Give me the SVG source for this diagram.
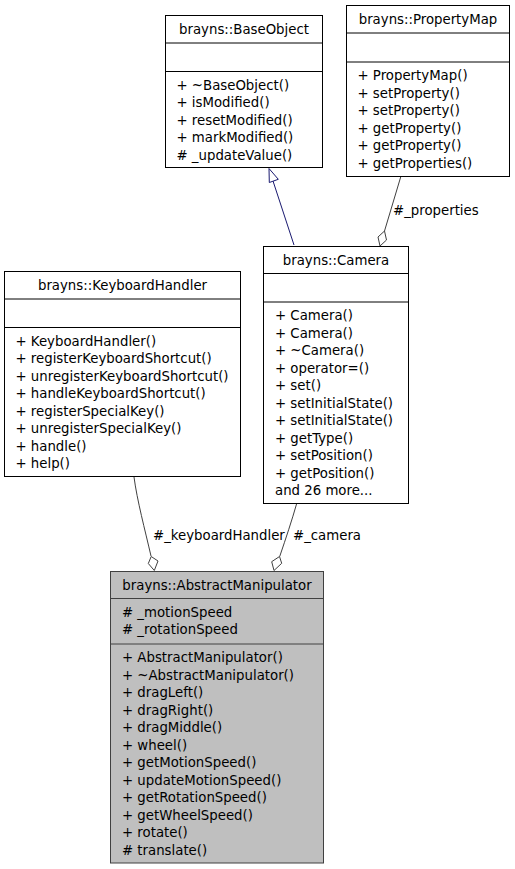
<svg xmlns="http://www.w3.org/2000/svg" width="515" height="869" viewBox="0 0 515 869">
<style>
text{font-family:"DejaVu Sans","Liberation Sans",sans-serif;font-size:13.3px;fill:#000}
.t{text-anchor:middle}
.box{fill:#fff;stroke:#000;stroke-width:1}
.cur{fill:#bfbfbf;stroke:#404040;stroke-width:1}
.sep{stroke:#000;stroke-width:1}
.sepc{stroke:#404040;stroke-width:1}
.inh{fill:none;stroke:#191970;stroke-width:1}
.inhh{fill:#fff;stroke:#191970;stroke-width:1}
.comp{fill:none;stroke:#404040;stroke-width:1}
.dia{fill:#fff;stroke:#404040;stroke-width:1}
</style>
<rect width="515" height="869" fill="#fff"/>
<g id="connectors">
<path class="inh" d="M294,245 L273,181"/>
<polygon class="inhh" points="269,168.5 278.3,179.3 269.3,182.5"/>
<path class="comp" d="M400.7,177 L384.5,231"/>
<polygon class="dia" points="380,246 378,237 384.5,231 386.5,240"/>
<text x="393" y="214.5">#_properties</text>
<path class="comp" d="M134,477 C137,500 145,530 151,556"/>
<polygon class="dia" points="154.3,570.5 148.3,563.5 151.2,556.5 158,561"/>
<text x="153" y="540">#_keyboardHandler</text>
<path class="comp" d="M296.7,503.5 C292,520 286,538 279.7,556.5"/>
<polygon class="dia" points="274,570.5 271.7,561.7 279.5,556.5 281.7,563.3"/>
<text x="293" y="540">#_camera</text>
</g>
<g id="BaseObject">
<rect class="box" x="165.5" y="15.5" width="157" height="152"/>
<line class="sep" x1="165.5" y1="43" x2="322.5" y2="43"/>
<line class="sep" x1="165.5" y1="71.5" x2="322.5" y2="71.5"/>
<text class="t" x="244" y="33.5">brayns::BaseObject</text>
<text x="176.5" y="89.5">+ ~BaseObject()</text>
<text x="176.5" y="107">+ isModified()</text>
<text x="176.5" y="124.5">+ resetModified()</text>
<text x="176.5" y="142">+ markModified()</text>
<text x="176.5" y="159.5"># _updateValue()</text>
</g>
<g id="PropertyMap">
<rect class="box" x="346.5" y="5.5" width="163" height="171"/>
<line class="sep" x1="346.5" y1="33" x2="509.5" y2="33"/>
<line class="sep" x1="346.5" y1="62" x2="509.5" y2="62"/>
<text class="t" x="428" y="24">brayns::PropertyMap</text>
<text x="357.5" y="80">+ PropertyMap()</text>
<text x="357.5" y="97.5">+ setProperty()</text>
<text x="357.5" y="115">+ setProperty()</text>
<text x="357.5" y="132.5">+ getProperty()</text>
<text x="357.5" y="150">+ getProperty()</text>
<text x="357.5" y="167.5">+ getProperties()</text>
</g>
<g id="KeyboardHandler">
<rect class="box" x="4.5" y="271.5" width="236" height="205"/>
<line class="sep" x1="4.5" y1="299" x2="240.5" y2="299"/>
<line class="sep" x1="4.5" y1="327.5" x2="240.5" y2="327.5"/>
<text class="t" x="122.5" y="290">brayns::KeyboardHandler</text>
<text x="15.5" y="345.5">+ KeyboardHandler()</text>
<text x="15.5" y="363">+ registerKeyboardShortcut()</text>
<text x="15.5" y="380.5">+ unregisterKeyboardShortcut()</text>
<text x="15.5" y="398">+ handleKeyboardShortcut()</text>
<text x="15.5" y="415.5">+ registerSpecialKey()</text>
<text x="15.5" y="433">+ unregisterSpecialKey()</text>
<text x="15.5" y="450.5">+ handle()</text>
<text x="15.5" y="468">+ help()</text>
</g>
<g id="Camera">
<rect class="box" x="263.5" y="246.5" width="145" height="257"/>
<line class="sep" x1="263.5" y1="273.5" x2="408.5" y2="273.5"/>
<line class="sep" x1="263.5" y1="302" x2="408.5" y2="302"/>
<text class="t" x="336" y="264.5">brayns::Camera</text>
<text x="275" y="320">+ Camera()</text>
<text x="275" y="337.5">+ Camera()</text>
<text x="275" y="355">+ ~Camera()</text>
<text x="275" y="372.5">+ operator=()</text>
<text x="275" y="390">+ set()</text>
<text x="275" y="407.5">+ setInitialState()</text>
<text x="275" y="425">+ setInitialState()</text>
<text x="275" y="442.5">+ getType()</text>
<text x="275" y="460">+ setPosition()</text>
<text x="275" y="477.5">+ getPosition()</text>
<text x="275" y="495">and 26 more...</text>
</g>
<g id="AbstractManipulator">
<rect class="cur" x="110.5" y="571.5" width="213" height="291.5"/>
<line class="sepc" x1="110.5" y1="598.5" x2="323.5" y2="598.5"/>
<line class="sepc" x1="110.5" y1="644" x2="323.5" y2="644"/>
<text class="t" x="217" y="589.5">brayns::AbstractManipulator</text>
<text x="122" y="616.5"># _motionSpeed</text>
<text x="122" y="634"># _rotationSpeed</text>
<text x="122" y="662">+ AbstractManipulator()</text>
<text x="122" y="679.5">+ ~AbstractManipulator()</text>
<text x="122" y="697">+ dragLeft()</text>
<text x="122" y="714.5">+ dragRight()</text>
<text x="122" y="732">+ dragMiddle()</text>
<text x="122" y="749.5">+ wheel()</text>
<text x="122" y="767">+ getMotionSpeed()</text>
<text x="122" y="784.5">+ updateMotionSpeed()</text>
<text x="122" y="802">+ getRotationSpeed()</text>
<text x="122" y="819.5">+ getWheelSpeed()</text>
<text x="122" y="837">+ rotate()</text>
<text x="122" y="854.5"># translate()</text>
</g>
</svg>
